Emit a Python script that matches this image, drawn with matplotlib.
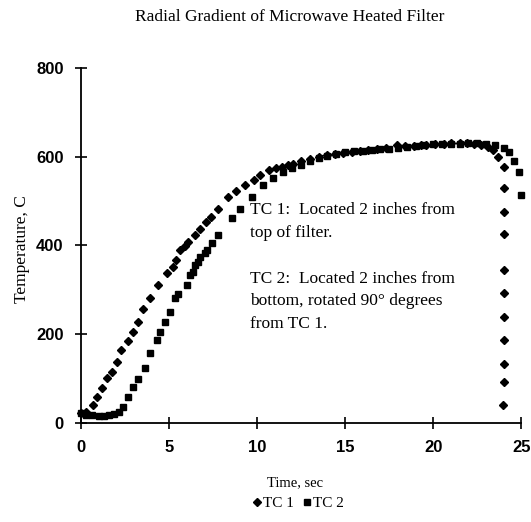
import matplotlib.pyplot as plt

# TC 1 (diamonds)
tc1_time = [0, 0.3, 0.7, 0.93, 1.17, 1.46, 1.74, 2.03, 2.3, 2.69, 2.97, 3.26, 3.54, 3.9,
            4.4, 4.86, 5.2, 5.4, 5.63, 5.9, 6.1, 6.48, 6.76, 7.1, 7.4, 7.8, 8.37, 8.8,
            9.3, 9.8, 10.17, 10.7, 11.1, 11.4, 11.75, 12.06, 12.5, 13, 13.5, 13.96, 14.4,
            14.9, 15.4, 15.85, 16.3, 16.8, 17.3, 17.94, 18.4, 18.9, 19.3, 19.6, 20.1, 20.6,
            21, 21.5, 21.9, 22.3, 22.7, 23.1, 23.4, 23.7, 24.0,
            24.05, 24.05, 24.05, 24.0, 24.0, 24.0, 24.0, 24.0, 24.0, 23.95]
tc1_temp = [22, 25, 40, 59, 79, 101, 115, 138, 164, 185, 205, 228, 258, 281,
            311, 337, 352, 367, 389, 398, 408, 423, 438, 452, 465, 483, 510, 522,
            536, 548, 558, 570, 574, 577, 581, 584, 590, 596, 600, 604, 607,
            609, 611, 613, 615, 618, 620, 626, 624, 625, 627, 626, 628, 629,
            630, 630, 631, 629, 626, 622, 615, 600, 577,
            530, 476, 427, 345, 292, 239, 188, 134, 93, 40]

# TC 2 (squares)
tc2_time = [0, 0.3, 0.6, 1.0, 1.3, 1.6, 1.9, 2.15, 2.4, 2.69, 2.97, 3.26, 3.64, 3.92,
            4.3, 4.49, 4.77, 5.06, 5.34, 5.5, 6.0, 6.2, 6.38, 6.48, 6.66, 6.76, 7.05,
            7.14, 7.43, 7.8, 8.56, 9.03, 9.7, 10.36, 10.9, 11.5, 12, 12.5, 13, 13.5, 14,
            14.5, 15, 15.5, 16, 16.5, 17, 17.5, 18, 18.5, 19, 19.5, 20, 20.5, 21, 21.5,
            22, 22.5, 23, 23.5, 24, 24.3, 24.6, 24.86, 25.0]
tc2_temp = [22, 18, 18, 16, 16, 17, 20, 25, 37, 59, 82, 100, 123, 157,
            187, 205, 228, 250, 281, 290, 311, 333, 340, 356, 362, 374, 382,
            390, 405, 423, 461, 483, 510, 536, 551, 566, 575, 582, 590, 597, 602,
            606, 610, 612, 614, 616, 617, 617, 620, 623, 625, 627, 628, 628, 629, 629,
            630, 630, 629, 627, 620, 610, 590, 566, 513]

x_ticks = [0, 5, 10, 15, 20, 25]
y_ticks = [0, 200, 400, 600, 800]

note1 = "TC 1:  Located 2 inches from\ntop of filter."
note2 = "TC 2:  Located 2 inches from\nbottom, rotated 90\u00b0 degrees\nfrom TC 1."

serif = 'Liberation Serif'

fig = plt.figure(figsize=(5.31, 5.22), dpi=100)
ax = fig.add_axes([0.1525, 0.1897, 0.829, 0.68])

ax.plot(tc1_time, tc1_temp, 'D', color='black', markersize=4.4, label='TC 1', clip_on=False)
ax.plot(tc2_time, tc2_temp, 's', color='black', markersize=4.3, label='TC 2', clip_on=False)

ax.set_xlim(0, 25)
ax.set_ylim(0, 800)
ax.set_xticks(x_ticks)
ax.set_yticks(y_ticks)
ax.spines['top'].set_visible(False)
ax.spines['right'].set_visible(False)
ax.spines['left'].set_linewidth(1.3)
ax.spines['bottom'].set_linewidth(1.3)
ax.tick_params(direction='inout', length=9, width=1.2, labelsize=12, pad=8)
for lbl in ax.get_xticklabels() + ax.get_yticklabels():
    lbl.set_fontweight('bold')
    lbl.set_family('Liberation Sans')

ax.set_xlabel('Time, sec', family=serif, fontsize=10.5, va='center')
ax.set_ylabel('Temperature, C', family=serif, fontsize=12.5, va='center')
ax.xaxis.set_label_coords(0.486, -0.169)
ax.yaxis.set_label_coords(-0.134, 0.49)
fig.text(0.545, 0.968, 'Radial Gradient of Microwave Heated Filter',
         family=serif, fontsize=12.5, ha='center', va='center')

ax.text(9.6, 498, note1, family=serif, fontsize=12.5, va='top', ha='left', linespacing=1.55)
ax.text(9.6, 343, note2, family=serif, fontsize=12.5, va='top', ha='left', linespacing=1.55)

fig.legend(loc='center', bbox_to_anchor=(0.56, 0.036), ncol=2, frameon=False,
           prop={'family': serif, 'size': 11}, handletextpad=0.05, columnspacing=0.4,
           markerscale=1.0, handlelength=0.8)

plt.savefig('out.png', dpi=100)
